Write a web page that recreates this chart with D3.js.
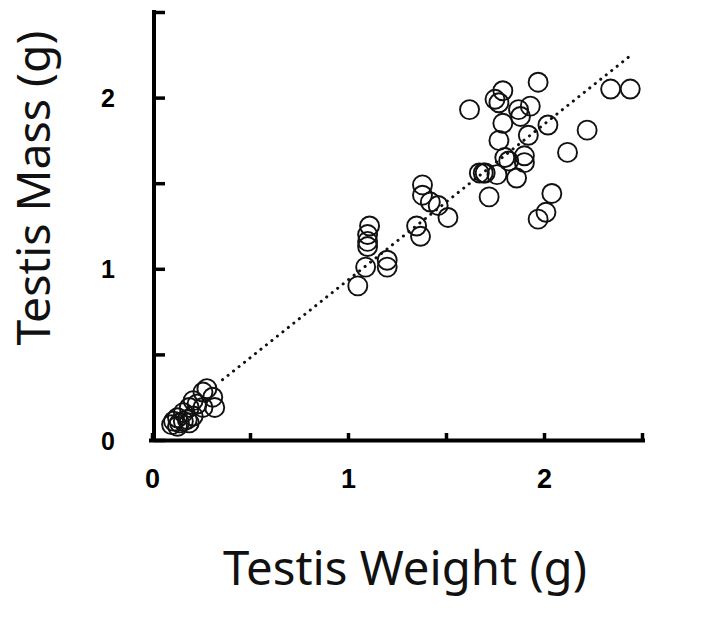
<!DOCTYPE html>
<html><head><meta charset="utf-8">
<script src="https://cdn.jsdelivr.net/npm/d3@7"></script>
<style>body{margin:0;background:#fff}</style>
</head><body>
<svg id="c" width="705" height="619"></svg>
<script>
// Testis weight (g) vs testis mass (g)
const weight = [
  0.28,0.26,0.31,0.21,0.32,0.26,0.19,0.16,0.21,0.13,0.18,0.11,0.14,0.19,0.10,0.13,0.16,0.23,
  1.38,1.38,1.42,1.46,1.51,1.35,1.37,1.11,1.10,1.10,1.10,1.20,1.20,1.09,1.05,
  1.97,1.79,1.75,1.77,1.62,1.93,1.87,1.88,1.79,2.02,1.92,1.77,1.90,1.80,1.82,1.90,
  1.67,1.69,1.70,1.76,1.86,1.72,2.04,2.01,1.97,2.12,2.22,2.34,2.44
];
const mass = [
  0.30,0.28,0.25,0.23,0.19,0.19,0.19,0.16,0.14,0.13,0.12,0.11,0.10,0.10,0.09,0.08,0.11,0.21,
  1.49,1.43,1.39,1.37,1.30,1.25,1.19,1.25,1.20,1.16,1.13,1.05,1.01,1.01,0.90,
  2.09,2.04,1.99,1.97,1.93,1.95,1.93,1.89,1.85,1.84,1.78,1.75,1.66,1.65,1.63,1.62,
  1.56,1.56,1.56,1.55,1.53,1.42,1.44,1.33,1.29,1.68,1.81,2.05,2.05
];
const trendX = [0.36, 2.43];
const trendY = [0.352, 2.235];
const tickValues = [0, 0.5, 1, 1.5, 2, 2.5];
const tickLabels = ["0", "", "1", "", "2", ""];
const xTitle = "Testis Weight (g)";
const yTitle = "Testis Mass (g)";

const svg = d3.select("#c");
const x = d3.scaleLinear().domain([0, 2.5]).range([152, 642]);
const y = d3.scaleLinear().domain([0, 2.5]).range([440, 12]);
const lab = d => tickLabels[tickValues.indexOf(d)];

// x axis
const gx = svg.append("g").attr("transform", "translate(0,440)")
  .call(d3.axisBottom(x).tickValues(tickValues).tickSize(-7).tickSizeOuter(0).tickFormat(lab));
gx.select(".domain").attr("stroke", "#000").attr("stroke-width", 4)
  .attr("d", `M${x(0)-3},0.5H${x(2.5)+3}`);
gx.selectAll(".tick line").attr("stroke", "#000").attr("stroke-width", 3.5);
gx.selectAll(".tick text").attr("y", 48).attr("dy", 0)
  .attr("font-family", "'Liberation Sans', Arial, sans-serif").attr("font-weight", "bold")
  .attr("font-size", 27).attr("fill", "#000");

// y axis
const gy = svg.append("g").attr("transform", "translate(154,0)")
  .call(d3.axisLeft(y).tickValues(tickValues).tickSize(-11).tickSizeOuter(0).tickFormat(lab));
gy.select(".domain").attr("stroke", "#000").attr("stroke-width", 4)
  .attr("d", `M0,${y(2.5)-2}V${y(0)+2}`);
gy.selectAll(".tick line").attr("stroke", "#000").attr("stroke-width", 3.5);
gy.selectAll(".tick text").attr("x", -39).attr("dy", "0.36em")
  .attr("font-family", "'Liberation Sans', Arial, sans-serif").attr("font-weight", "bold")
  .attr("font-size", 25).attr("fill", "#000");

// trend line (dotted)
svg.append("path")
  .datum(d3.zip(trendX, trendY))
  .attr("d", d3.line().x(d => x(d[0])).y(d => y(d[1])))
  .attr("fill", "none").attr("stroke", "#111").attr("stroke-width", 3)
  .attr("stroke-linecap", "round").attr("stroke-dasharray", "0.1 6.9");

// points
svg.append("g").selectAll("circle")
  .data(d3.zip(weight, mass))
  .join("circle")
  .attr("cx", d => x(d[0])).attr("cy", d => y(d[1])).attr("r", 9.5)
  .attr("fill", "none").attr("stroke", "#111").attr("stroke-width", 1.9);

// titles
const tf = "'Noto Sans', 'Open Sans', sans-serif";
const tx = svg.append("text").text(xTitle)
  .attr("x", 405).attr("y", 585).attr("text-anchor", "middle")
  .attr("font-family", tf).attr("font-size", 33).attr("fill", "#111");
let w = tx.node().getComputedTextLength();
tx.attr("font-size", 33 * 364 / w);

const ty = svg.append("text").text(yTitle)
  .attr("transform", "translate(50,188) rotate(-90)").attr("text-anchor", "middle")
  .attr("font-family", tf).attr("font-size", 33).attr("fill", "#111");
w = ty.node().getComputedTextLength();
ty.attr("font-size", 33 * 315 / w);
</script>
</body></html>
